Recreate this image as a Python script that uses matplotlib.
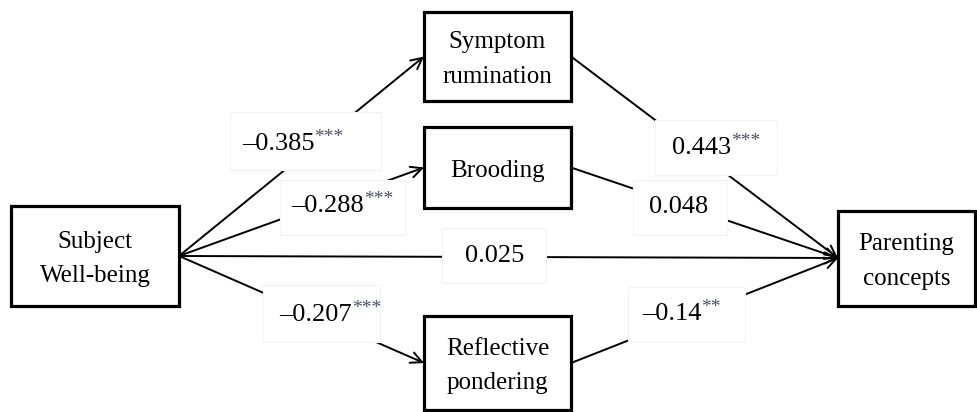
import matplotlib.pyplot as plt
from matplotlib.patches import Rectangle

plt.rcParams['font.family'] = ['Liberation Serif', 'DejaVu Serif']

# nodes of the path model
nodes = ['Subject\nWell-being', 'Symptom\nrumination', 'Brooding',
         'Reflective\npondering', 'Parenting\nconcepts']
# paths (from, to), coefficient, significance
paths = [(0, 1), (0, 2), (0, 4), (0, 3), (1, 4), (2, 4), (3, 4)]
coefs = ['\u20130.385', '\u20130.288', '0.025', '\u20130.207', '0.443', '0.048', '\u20130.14']
stars = ['***', '***', '', '***', '***', '', '**']

# layout in pixel coordinates (x0, y0, x1, y1)
boxes = [(11, 206, 179, 306), (424, 12, 571, 101), (424, 127, 571, 208),
         (424, 316, 571, 410), (838, 211, 975, 306)]
# white patches behind the coefficients, and left/centre of the text
label_boxes = [(230, 112, 381, 170), (280, 180, 405, 235), (442, 228, 546, 283),
               (263, 285, 380, 342), (655, 120, 777, 175), (633, 180, 727, 235),
               (628, 287, 745, 342)]
label_pos = [(242, 144), (291, 206), (465, 256), (279, 315),
             (672, 148), (649, 207), (642, 314)]

fig = plt.figure(figsize=(9.77, 4.12), dpi=100)
ax = fig.add_axes([0, 0, 1, 1])
ax.set_xlim(0, 977)
ax.set_ylim(412, 0)
ax.axis('off')

for (x0, y0, x1, y1), name in zip(boxes, nodes):
    ax.add_patch(Rectangle((x0, y0), x1 - x0, y1 - y0, fill=False,
                           lw=2.3, ec='black', zorder=3))
    ax.text((x0 + x1) / 2, (y0 + y1) / 2 + 3, name, ha='center', va='center',
            fontsize=18, linespacing=1.75, zorder=4)

for (a, b) in paths:
    ba, bb = boxes[a], boxes[b]
    start = (ba[2], (ba[1] + ba[3]) / 2)
    end = (bb[0], (bb[1] + bb[3]) / 2)
    if b == 4:
        end = (bb[0], 258)
    if a == 0:
        start = (ba[2], 256)
    ax.annotate('', xy=end, xytext=start,
                arrowprops=dict(arrowstyle='->', lw=1.4, color='black',
                                mutation_scale=20, shrinkA=0, shrinkB=0),
                zorder=1)

for (x0, y0, x1, y1), (x, y), c, s in zip(label_boxes, label_pos, coefs, stars):
    ax.add_patch(Rectangle((x0, y0), x1 - x0, y1 - y0, fc='white',
                           ec='#f3f3f3', lw=0.8, zorder=2))
    t = ax.text(x, y, c, ha='left', va='center', fontsize=19, zorder=3)
    if s:
        ax.annotate(s, xy=(1, 1), xycoords=t, xytext=(0, 3),
                    textcoords='offset points', ha='left', va='top',
                    fontsize=14, color='#4a5068', zorder=3)

fig.savefig('out.png', dpi=100)
